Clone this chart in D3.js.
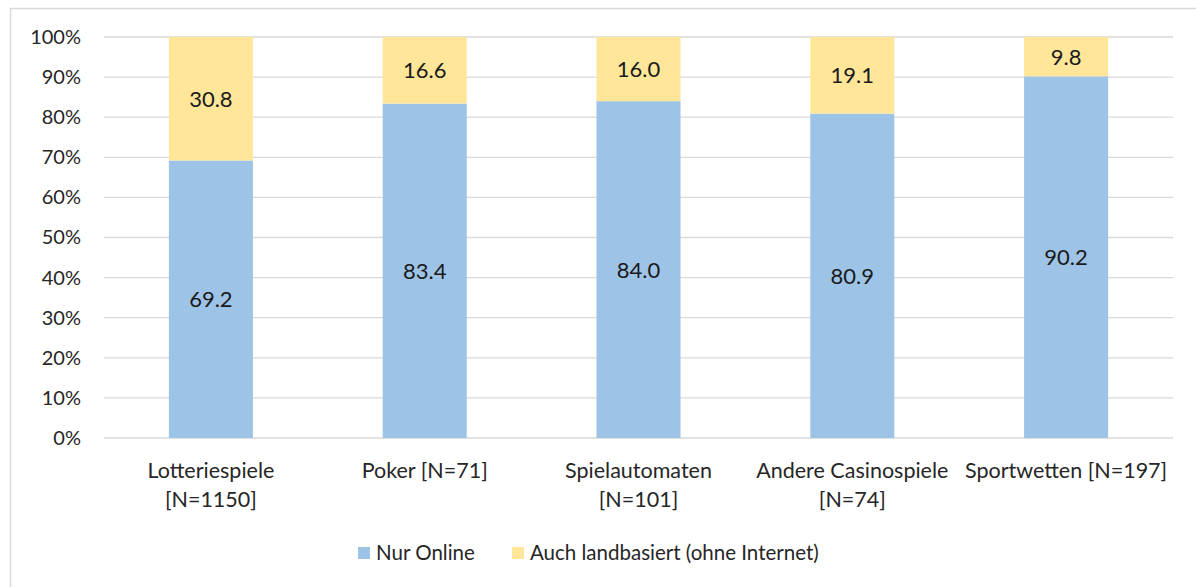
<!DOCTYPE html>
<html>
<head>
<meta charset="utf-8">
<script src="https://cdn.jsdelivr.net/npm/d3@7"></script>
<style>
  body { margin: 0; background: #fff; }
  svg { display: block; font-family: Lato, sans-serif; }
</style>
</head>
<body>
<div id="chart"></div>
<script>
// Categories (label lines) and series values in percent
const categories = ["Lotteriespiele", "Poker", "Spielautomaten", "Andere Casinospiele", "Sportwetten"];
const categoryLabels = [
  ["Lotteriespiele", "[N=1150]"],
  ["Poker [N=71]"],
  ["Spielautomaten", "[N=101]"],
  ["Andere Casinospiele", "[N=74]"],
  ["Sportwetten [N=197]"]
];
const nurOnline = [69.2, 83.4, 84.0, 80.9, 90.2];
const auchLandbasiert = [30.8, 16.6, 16.0, 19.1, 9.8];
const seriesNames = ["Nur Online", "Auch landbasiert (ohne Internet)"];
const yTicks = [0, 10, 20, 30, 40, 50, 60, 70, 80, 90, 100];

const colors = ["#9DC3E6", "#FFE699"];
const fontSize = 21;
const W = 1196, H = 587;
const margin = { top: 37, right: 23, bottom: 149, left: 104 };
const width = W - margin.left - margin.right;
const height = H - margin.top - margin.bottom;

const svg = d3.select("#chart").append("svg")
  .attr("width", W)
  .attr("height", H);

// outer chart border
svg.append("rect")
  .attr("x", 10.5).attr("y", 8.5)
  .attr("width", W + 20).attr("height", H + 20)
  .attr("fill", "none")
  .attr("stroke", "#D9D9D9")
  .attr("stroke-width", 1.5);

const g = svg.append("g")
  .attr("transform", `translate(${margin.left},${margin.top})`);

const x = d3.scaleBand()
  .domain(categories)
  .range([0, width])
  .paddingInner(0.607)
  .paddingOuter(0.3035);

const y = d3.scaleLinear()
  .domain([0, 100])
  .range([height, 0]);

// gridlines
g.append("g")
  .selectAll("line")
  .data(yTicks)
  .enter().append("line")
  .attr("x1", 0).attr("x2", width)
  .attr("y1", d => y(d)).attr("y2", d => y(d))
  .attr("stroke", "#D9D9D9")
  .attr("stroke-width", 1.3);

// y axis labels
const yAxis = g.append("g")
  .call(d3.axisLeft(y).tickValues(yTicks).tickFormat(d => d + "%").tickSize(0).tickPadding(23));
yAxis.select(".domain").remove();
yAxis.selectAll("text")
  .attr("font-size", 20)
  .attr("font-family", "Lato, sans-serif")
  .attr("fill", "#262626");

// stacked data
const rows = categories.map((c, i) => ({ cat: c, s0: nurOnline[i], s1: auchLandbasiert[i] }));
const stack = d3.stack().keys(["s0", "s1"])(rows);

stack.forEach((layer, li) => {
  g.append("g")
    .selectAll("rect")
    .data(layer)
    .enter().append("rect")
    .attr("x", d => x(d.data.cat))
    .attr("width", x.bandwidth())
    .attr("y", d => y(d[1]))
    .attr("height", d => y(d[0]) - y(d[1]))
    .attr("fill", colors[li]);

  g.append("g")
    .selectAll("text")
    .data(layer)
    .enter().append("text")
    .attr("x", d => x(d.data.cat) + x.bandwidth() / 2)
    .attr("y", d => y((d[0] + d[1]) / 2))
    .attr("dy", "0.36em")
    .attr("text-anchor", "middle")
    .attr("font-size", 22)
    .attr("fill", "#1a1a1a")
    .text(d => (d[1] - d[0]).toFixed(1));
});

// x axis labels
const xl = g.append("g")
  .selectAll("text")
  .data(categories)
  .enter().append("text")
  .attr("x", d => x(d) + x.bandwidth() / 2)
  .attr("y", height + 40)
  .attr("text-anchor", "middle")
  .attr("font-size", 21.5)
  .attr("fill", "#262626");
xl.each(function(d, i) {
  d3.select(this).selectAll("tspan")
    .data(categoryLabels[i])
    .enter().append("tspan")
    .attr("x", x(d) + x.bandwidth() / 2)
    .attr("dy", (t, j) => j === 0 ? 0 : 29)
    .text(t => t);
});

// legend
const legendX = [358, 512];
const legend = svg.append("g");
seriesNames.forEach((name, i) => {
  legend.append("rect")
    .attr("x", legendX[i]).attr("y", 547)
    .attr("width", 12).attr("height", 12)
    .attr("fill", colors[i]);
  legend.append("text")
    .attr("x", legendX[i] + 18).attr("y", 560)
    .attr("font-size", 20.5)
    .attr("fill", "#262626")
    .text(name);
});
</script>
</body>
</html>
